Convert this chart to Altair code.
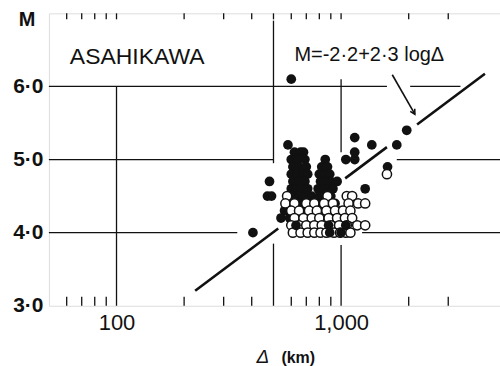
import math
import altair as alt
import pandas as pd

# Magnitude M against epicentral distance (km), Asahikawa station.
# Each entry: magnitude -> distances of events with that magnitude.
filled_events = {
    6.1: [600],
    5.4: [1960],
    5.3: [1150],
    5.2: [580, 1370, 1770],
    5.1: [620, 660, 680, 1150],
    5.0: [600, 640, 690, 850, 1050, 1150],
    4.9: [610, 650, 700, 820, 870, 1610],
    4.8: [600, 640, 680, 710, 800, 850, 890],
    4.7: [480, 610, 650, 690, 810, 860, 900, 960],
    4.6: [600, 630, 670, 710, 790, 840, 880, 920, 1280],
    4.5: [470, 490, 610, 650, 700, 740, 800, 850, 900],
    4.4: [600, 640, 680, 720, 780, 830, 880, 940],
    4.3: [560, 580, 620, 700, 820, 900, 1000],
    4.2: [540, 590, 660, 740, 760, 960, 1040],
    4.1: [630, 880, 1050],
    4.0: [405, 890, 1000],
}

open_events = {
    4.8: [1600],
    4.5: [575, 870, 1060, 1120],
    4.4: [565, 620, 700, 760, 840, 920, 1080, 1190, 1280],
    4.3: [600, 650, 720, 780, 860, 940, 1020, 1100],
    4.2: [620, 680, 740, 800, 880, 960, 1040, 1120],
    4.1: [600, 650, 700, 760, 820, 900, 980, 1060, 1180, 1280],
    4.0: [610, 660, 710, 760, 810, 860, 930, 990, 1050, 1100],
}

# Empirical relation M = a + b log10(Delta), drawn in broken pieces
coef_a = -2.2
coef_b = 2.3
fit_pieces = [(224, 525), (1043, 1600), (2180, 4370)]

# Grid lines (broken where they pass through the annotations)
hgrid = [(50, 1600, 6.0), (2030, 3400, 6.0),
         (50, 500, 5.0), (1770, 5100, 5.0),
         (50, 345, 4.0), (1240, 5100, 4.0)]
vgrid = [(100, 3.0, 6.0), (500, 3.0, 3.85), (500, 4.95, 6.9),
         (1000, 3.0, 3.83), (1000, 5.1, 6.1)]

minor_ticks = [60, 70, 80, 90, 200, 300, 400, 600, 700, 800, 900, 2000, 3000]
top_ticks = [60, 70, 80, 90, 100, 200, 300, 400, 500, 600, 700, 800, 900,
             1000, 2000, 3000]

# Arrow from the equation to the fitted line: (distance, magnitude)
arrow_from = (1690, 6.16)
arrow_to = (2130, 5.62)

y_ticks = [3, 4, 5, 6]
x_labels = [100, 1000]


def to_frame(events):
    rows = [{"dist": d, "mag": m} for m, ds in events.items() for d in ds]
    return pd.DataFrame(rows)


filled_df = to_frame(filled_events)
open_df = to_frame(open_events)
# the smallest filled events sit in among the open circles and are drawn over them
filled_low = filled_df[filled_df["mag"] <= 4.1]
filled_high = filled_df[filled_df["mag"] > 4.1]

fit_df = pd.DataFrame([
    {"d1": d1, "d2": d2,
     "m1": coef_a + coef_b * math.log10(d1),
     "m2": coef_a + coef_b * math.log10(d2)}
    for d1, d2 in fit_pieces
])
hgrid_df = pd.DataFrame(hgrid, columns=["d1", "d2", "m"])
vgrid_df = pd.DataFrame(vgrid, columns=["d", "m1", "m2"])

ink = "#111111"
xs = alt.Scale(type="log", domain=[50, 5100])
ys = alt.Scale(domain=[3, 7])

x_axis = alt.Axis(
    values=x_labels, labelExpr="format(datum.value, ',')", title=None,
    ticks=False, domain=False, grid=False, labelFontSize=22,
    labelColor=ink, labelPadding=7, labelFont="Liberation Sans")
y_axis = alt.Axis(
    values=y_ticks, labelExpr="replace(format(datum.value, '.1f'), '.', '·')",
    title=None, ticks=False, domain=False, grid=False, labelFontSize=21,
    labelFontWeight="bold", labelColor=ink, labelPadding=6,
    labelFont="Liberation Sans")


def X(f):
    return alt.X(f, type="quantitative", scale=xs, axis=x_axis)


def Y(f):
    return alt.Y(f, type="quantitative", scale=ys, axis=y_axis)


hgrid_layer = alt.Chart(hgrid_df).mark_rule(color=ink, strokeWidth=1.3).encode(
    x=X("d1"), x2="d2", y=Y("m"))
vgrid_layer = alt.Chart(vgrid_df).mark_rule(color=ink, strokeWidth=1.3).encode(
    x=X("d"), y=Y("m1"), y2="m2")

bottom_ticks = alt.Chart(pd.DataFrame({"d": minor_ticks})).mark_rule(
    color=ink, strokeWidth=1.3).encode(x=X("d"), y=alt.value(293), y2=alt.value(284))
upper_ticks = alt.Chart(pd.DataFrame({"d": top_ticks})).mark_rule(
    color=ink, strokeWidth=1.3).encode(x=X("d"), y=alt.value(0), y2=alt.value(6))

fit_layer = alt.Chart(fit_df).mark_rule(color=ink, strokeWidth=2.6).encode(
    x=X("d1"), x2="d2", y=Y("m1"), y2="m2")

arrow_df = pd.DataFrame([{"d1": arrow_from[0], "m1": arrow_from[1],
                          "d2": arrow_to[0], "m2": arrow_to[1]}])
arrow_line = alt.Chart(arrow_df).mark_rule(color=ink, strokeWidth=1.6).encode(
    x=X("d1"), x2="d2", y=Y("m1"), y2="m2")
arrow_head = alt.Chart(arrow_df).mark_point(
    shape="M-0.55,-1L0,0L0.55,-1", filled=False, color=ink, strokeWidth=1.6,
    size=90, angle=330, opacity=1).encode(x=X("d2"), y=Y("m2"))


def filled_layer(df):
    return alt.Chart(df).mark_point(
        shape="circle", filled=True, color=ink, size=95, opacity=1).encode(
        x=X("dist"), y=Y("mag"))


open_layer = alt.Chart(open_df).mark_point(
    shape="circle", filled=True, fill="white", stroke=ink, strokeWidth=1.5,
    size=85, opacity=1).encode(x=X("dist"), y=Y("mag"))

station = alt.Chart(pd.DataFrame({"t": ["ASAHIKAWA"]})).mark_text(
    align="left", baseline="middle", fontSize=23, color=ink,
    font="Liberation Sans").encode(x=alt.value(21), y=alt.value(44), text="t:N")

equation = alt.Chart(pd.DataFrame({"t": ["M=-2·2+2·3 log\u0394"]})).mark_text(
    align="left", baseline="middle", fontSize=20, color=ink,
    font="Liberation Sans").encode(x=alt.value(246), y=alt.value(42), text="t:N")

m_label = alt.Chart(pd.DataFrame({"t": ["M"]})).mark_text(
    align="center", baseline="middle", fontSize=20, fontWeight="bold", color=ink,
    font="Liberation Sans").encode(x=alt.value(-22), y=alt.value(7), text="t:N")

delta_label = alt.Chart(pd.DataFrame({"t": ["\u0394"]})).mark_text(
    align="left", baseline="middle", fontSize=19, fontStyle="italic", color=ink,
    font="Liberation Sans").encode(x=alt.value(208), y=alt.value(344), text="t:N")
km_label = alt.Chart(pd.DataFrame({"t": ["(km)"]})).mark_text(
    align="left", baseline="middle", fontSize=16, fontWeight="bold", color=ink,
    font="Liberation Sans").encode(x=alt.value(233), y=alt.value(345), text="t:N")

chart = alt.layer(
    hgrid_layer, vgrid_layer, bottom_ticks, upper_ticks, fit_layer,
    arrow_line, arrow_head, filled_layer(filled_high), open_layer,
    filled_layer(filled_low),
    station, equation, m_label, delta_label, km_label,
).properties(
    width=452, height=293,
    autosize=alt.AutoSizeParams(type="none"),
    padding={"left": 49, "top": 13, "right": 0, "bottom": 60},
    background="white",
).configure_view(stroke=ink, strokeWidth=1.6).configure(font="Liberation Sans")

chart.save("out.html", embed_options={"renderer": "svg", "actions": False})
